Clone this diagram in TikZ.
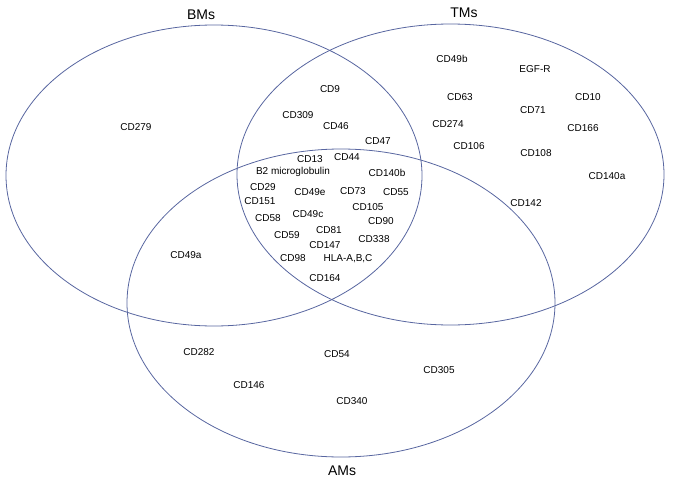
\documentclass[tikz,border=0pt]{standalone}
\usepackage{fontspec}
\setmainfont{Liberation Sans}
\definecolor{vennline}{RGB}{88,102,160}

\begin{document}
\begin{tikzpicture}[x=1pt,y=-1pt]
\tikzstyle{set} = [draw=vennline,line width=0.8pt];
\tikzstyle{title} = [font=\fontsize{14}{16}\selectfont];
\tikzstyle{cd} = [font=\fontsize{10}{12}\selectfont,inner sep=0pt];
\useasboundingbox (0,0) rectangle (675,479);

\draw [set] (214,175.5) ellipse (208 and 150.5);
\draw [set] (450.5,174.5) ellipse (213.5 and 150.5);
\draw [set] (341,303) ellipse (214 and 154);

\node [title] (bms) at (201,15) {BMs};
\node [title] (tms) at (464,13) {TMs};
\node [title] (ams) at (342,471) {AMs};

% BMs only
\node [cd] (cd279) at (136,127) {CD279};
% BMs and TMs
\node [cd] (cd9) at (330,89) {CD9};
\node [cd] (cd309) at (298,115) {CD309};
\node [cd] (cd46) at (336,126) {CD46};
\node [cd] (cd47) at (378,141) {CD47};
% all three
\node [cd] (cd13) at (310,159) {CD13};
\node [cd] (cd44) at (347,157) {CD44};
\node [cd] (b2m) at (293,172) {B2 microglobulin};
\node [cd] (cd140b) at (387,173) {CD140b};
\node [cd] (cd29) at (263,187) {CD29};
\node [cd] (cd49e) at (310,192) {CD49e};
\node [cd] (cd73) at (353,191) {CD73};
\node [cd] (cd55) at (396,192) {CD55};
\node [cd] (cd151) at (260,201) {CD151};
\node [cd] (cd105) at (368,207) {CD105};
\node [cd] (cd58) at (268,218) {CD58};
\node [cd] (cd49c) at (308,214) {CD49c};
\node [cd] (cd90) at (381,221) {CD90};
\node [cd] (cd81) at (329,230) {CD81};
\node [cd] (cd59) at (287,235) {CD59};
\node [cd] (cd338) at (374,239) {CD338};
\node [cd] (cd147) at (325,245) {CD147};
\node [cd] (cd98) at (293,258) {CD98};
\node [cd] (hla) at (348,259) {HLA-A,B,C};
\node [cd] (cd164) at (325,278) {CD164};
% TMs only
\node [cd] (cd49b) at (452,59) {CD49b};
\node [cd] (egfr) at (535,69) {EGF-R};
\node [cd] (cd63) at (460,97) {CD63};
\node [cd] (cd10) at (588,97) {CD10};
\node [cd] (cd71) at (533,110) {CD71};
\node [cd] (cd274) at (448,124) {CD274};
\node [cd] (cd166) at (583,128) {CD166};
\node [cd] (cd106) at (469,146) {CD106};
\node [cd] (cd108) at (536,153) {CD108};
\node [cd] (cd140a) at (607,176) {CD140a};
\node [cd] (cd142) at (526,203) {CD142};
% BMs and AMs
\node [cd] (cd49a) at (186,255) {CD49a};
% AMs only
\node [cd] (cd282) at (199,352) {CD282};
\node [cd] (cd54) at (337,354) {CD54};
\node [cd] (cd305) at (439,370) {CD305};
\node [cd] (cd146) at (249,385) {CD146};
\node [cd] (cd340) at (352,401) {CD340};
\end{tikzpicture}
\end{document}
